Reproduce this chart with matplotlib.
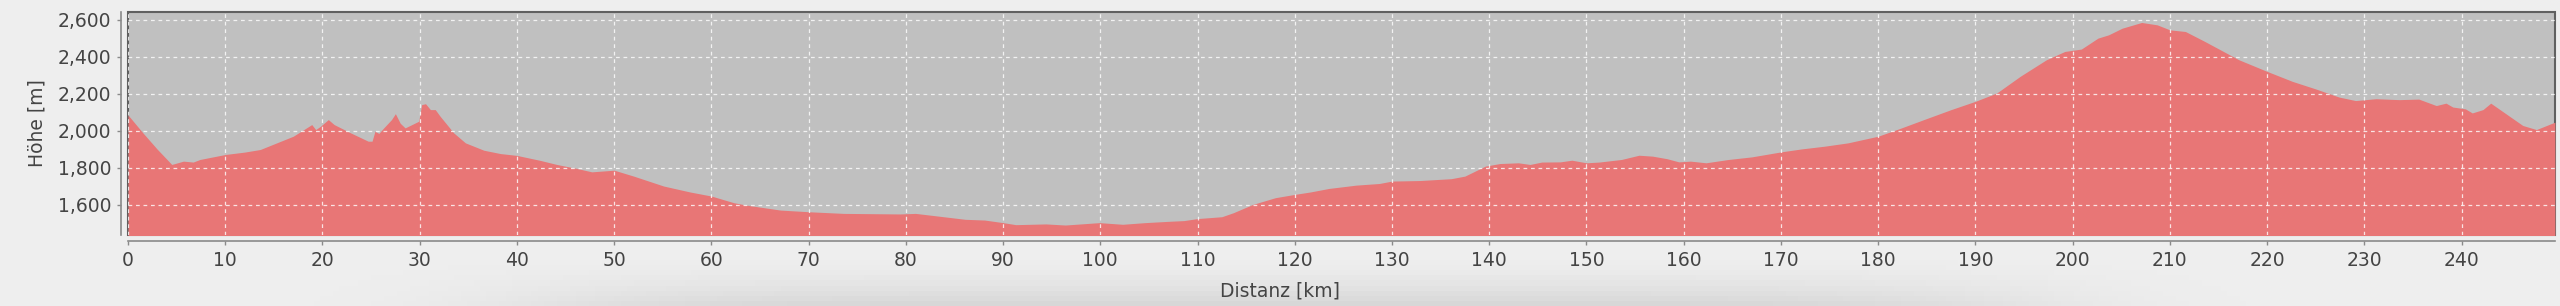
import numpy as np
import matplotlib.pyplot as plt
from matplotlib.ticker import FuncFormatter, MultipleLocator

# elevation profile (km, m)
km = [0, 1.5, 3.0, 4.5, 5.7, 6.7, 7.4, 10.0, 12.0, 13.6, 15.3, 17.0, 18.9, 19.3, 19.8,
      20.6, 21.2, 22.9, 24.7, 25.1, 25.4, 25.8, 26.3, 27.1, 27.5, 28.0, 28.5, 29.9,
      30.2, 30.6, 31.1, 31.6, 32.1, 33.5, 34.7, 36.6, 38.3, 40.0, 42.4, 44.1, 46.2,
      47.7, 50.0, 52.0, 55.1, 57.8, 60.0, 62.3, 63.7, 67.1, 70.0, 73.6, 79.4, 81.0,
      82.6, 86.1, 88.1, 90.0, 91.3, 94.4, 96.4, 99.9, 102.3, 104.6, 107.0, 108.6,
      110.0, 112.5, 113.7, 115.7, 118.0, 120.0, 121.6, 123.5, 126.3, 128.7, 130.0,
      132.9, 136.1, 137.5, 139.6, 141.1, 143.0, 144.2, 145.4, 147.3, 148.5, 150.0,
      151.3, 153.6, 155.4, 156.8, 158.3, 159.5, 160.7, 162.3, 164.6, 167.0, 170.0,
      172.1, 174.5, 176.9, 180.0, 182.4, 184.7, 187.5, 190.0, 192.2, 194.6, 197.3,
      199.2, 200.9, 202.6, 203.7, 205.1, 207.1, 208.7, 210.0, 211.6, 213.6, 217.1,
      220.0, 222.6, 225.0, 227.4, 229.1, 231.2, 233.6, 235.6, 237.4, 238.4, 239.1,
      240.4, 241.1, 242.2, 243.0, 246.3, 247.7, 249.6]
hoehe = [2085, 1990, 1900, 1817, 1835, 1830, 1844, 1871, 1884, 1898, 1934, 1970, 2033,
         2006, 2024, 2060, 2033, 1988, 1943, 1943, 1997, 1985, 2015, 2060, 2092, 2040,
         2015, 2051, 2141, 2146, 2114, 2114, 2078, 1988, 1934, 1894, 1876, 1866, 1839,
         1817, 1795, 1777, 1786, 1754, 1700, 1668, 1646, 1610, 1596, 1570, 1561, 1552,
         1549, 1552, 1542, 1520, 1516, 1502, 1491, 1495, 1489, 1502, 1493, 1502, 1509,
         1513, 1524, 1534, 1556, 1601, 1637, 1655, 1668, 1687, 1705, 1714, 1727, 1730,
         1740, 1754, 1808, 1822, 1826, 1817, 1830, 1831, 1840, 1826, 1830, 1844, 1867,
         1862, 1848, 1831, 1835, 1826, 1844, 1858, 1885, 1901, 1916, 1934, 1970, 2015,
         2060, 2114, 2159, 2204, 2294, 2384, 2429, 2442, 2501, 2519, 2555, 2586, 2573,
         2546, 2537, 2483, 2384, 2321, 2267, 2226, 2182, 2163, 2173, 2168, 2171, 2136,
         2149, 2128, 2118, 2096, 2114, 2149, 2028, 2006, 2046]
x_ticks = list(range(0, 250, 10))
y_ticks = [1600, 1800, 2000, 2200, 2400, 2600]

fig = plt.figure(figsize=(25.6, 3.06), dpi=100, facecolor='#eeeeee')

# soft shadow in the page background
bg = fig.add_axes([0, 0, 1, 1], zorder=-10)
xx, yy = np.meshgrid(np.linspace(0, 1, 400), np.linspace(0, 1, 60))
shade = 0.935 - 0.09 * np.exp(-((xx - 0.5) / 0.3) ** 6) * np.clip((yy - 0.85) / 0.15, 0, 1) ** 1.5
bg.imshow(np.dstack([shade] * 3), aspect='auto', extent=[0, 1, 0, 1], origin='upper')
bg.axis('off')

ax = fig.add_axes([0.05, 0.232, 0.948, 0.729])
ax.set_facecolor('#c0c0c0')
ax.patch.set_edgecolor('#606060')
ax.patch.set_linewidth(1.5)

ax.fill_between(km, hoehe, 1400, color='#e87676', linewidth=0, zorder=2)

ax.set_xlim(0, 249.6)
ax.set_ylim(1435, 2643)
ax.set_xticks(x_ticks)
ax.set_yticks(y_ticks)
ax.yaxis.set_major_formatter(FuncFormatter(lambda v, p: f'{int(v):,}'))
ax.grid(True, color='white', linestyle=(0, (3, 3)), linewidth=0.9, alpha=0.8, zorder=3)
ax.set_axisbelow(False)

for s in ['top', 'right']:
    ax.spines[s].set_visible(False)
for s in ['left', 'bottom']:
    ax.spines[s].set_color('#8a8a8a')
    ax.spines[s].set_linewidth(1.2)
ax.spines['left'].set_position(('outward', 5))
ax.spines['bottom'].set_position(('outward', 4.5))
ax.tick_params(axis='both', direction='out', length=3, width=1, color='#8a8a8a',
               labelsize=13.5, labelcolor='#444444', pad=4)

ax.set_ylabel('Höhe [m]', fontsize=13.5, color='#444444', labelpad=8)
fig.text(0.5, 0.05, 'Distanz [km]', ha='center', va='center', fontsize=13.5, color='#444444')

fig.savefig('out.png', dpi=100, facecolor=fig.get_facecolor())
